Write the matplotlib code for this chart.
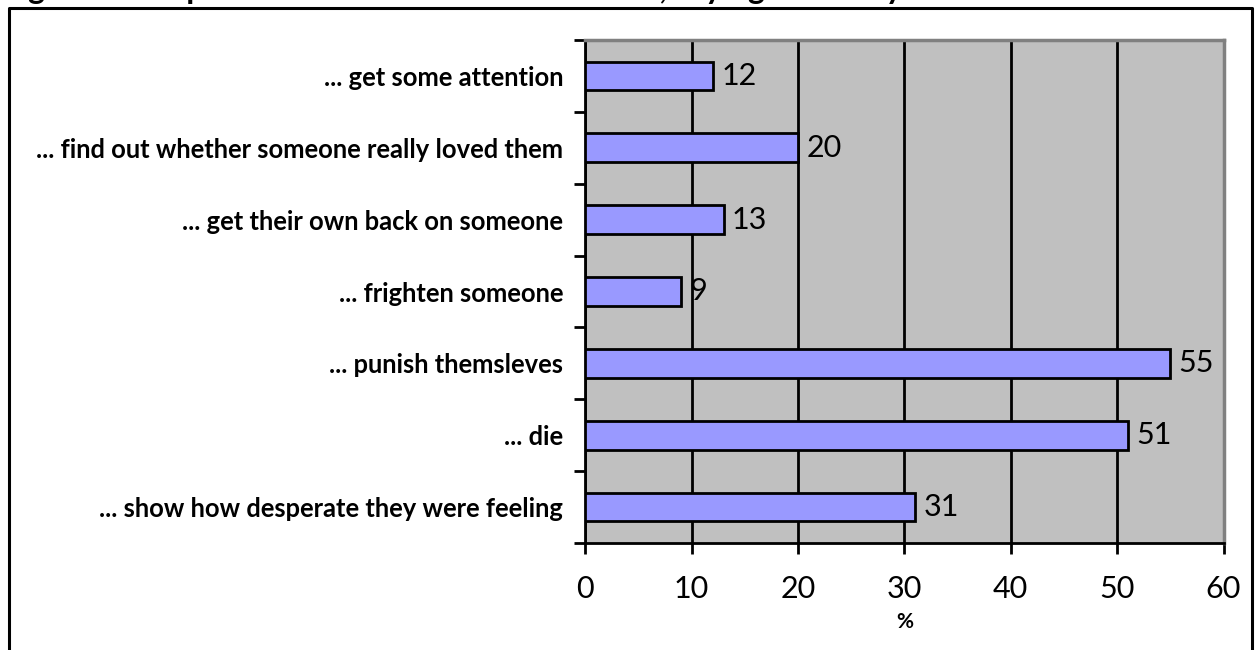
import matplotlib
matplotlib.use("Agg")
import matplotlib.pyplot as plt
from matplotlib.lines import Line2D
import numpy as np

# Reasons given, top to bottom, and share of respondents (%)
categories = [
    "... get some attention",
    "... find out whether someone really loved them",
    "... get their own back on someone",
    "... frighten someone",
    "... punish themsleves",
    "... die",
    "... show how desperate they were feeling",
]
values = [12, 20, 13, 9, 55, 51, 31]
x_ticks = [0, 10, 20, 30, 40, 50, 60]
x_label = "%"
title = "Figure 2: Responses of those who self-harmed, saying that they wanted to..."

plt.rcParams["font.family"] = ["Lato", "DejaVu Sans"]

W, H = 1256, 650
fig = plt.figure(figsize=(W / 100, H / 100), dpi=100)

# plot area in pixel coordinates
left, right, top, bottom = 585.3, 1223.5, 40, 543
ax = fig.add_axes([left / W, (H - bottom) / H, (right - left) / W, (bottom - top) / H])
ax.set_facecolor("#C0C0C0")

ypos = np.arange(len(categories))
ax.barh(ypos, values, height=0.40, color="#9999FF", edgecolor="black",
        linewidth=2, zorder=3)

for y, v in zip(ypos, values):
    ax.annotate(str(v), xy=(v, y), xytext=(6, 0), textcoords="offset points",
                va="center", ha="left", fontsize=22, color="black", zorder=4)

ax.set_xlim(0, 60)
ax.set_ylim(len(categories) - 0.5, -0.5)

ax.set_xticks(x_ticks)
ax.set_xticklabels([str(t) for t in x_ticks], fontsize=22)
ax.tick_params(axis="x", direction="out", length=8, width=2, pad=15, color="black")

ax.set_yticks(ypos)
ax.set_yticklabels(categories, fontsize=18.4, fontweight="bold")
ax.tick_params(axis="y", which="major", length=0, pad=16)
ax.set_yticks(np.arange(-0.5, len(categories)), minor=True)
ax.tick_params(axis="y", which="minor", direction="out", length=8, width=2, color="black")

ax.grid(axis="x", color="black", linewidth=2, zorder=1)
ax.set_axisbelow(True)

for side in ("left", "bottom"):
    ax.spines[side].set_color("black")
    ax.spines[side].set_linewidth(2)
for side in ("top", "right"):
    ax.spines[side].set_color("#808080")
    ax.spines[side].set_linewidth(2.5)

fig.text(905 / W, 1 - 622 / H, x_label, ha="center", va="center",
         fontsize=15, fontweight="bold")

# title sitting above the frame, running off the top edge
fig.text(2 / W, 1 + 1 / H, title, ha="left", va="baseline",
         fontsize=23, fontweight="bold")

# outer frame (left, top, right)
fx0, fx1, fy0 = 9 / W, 1252 / W, 1 - 8 / H
fig.add_artist(Line2D([fx0, fx0, fx1, fx1], [0, fy0, fy0, 0],
                      transform=fig.transFigure, color="black", linewidth=2.2))

fig.savefig("out.png", dpi=100, facecolor="white")
